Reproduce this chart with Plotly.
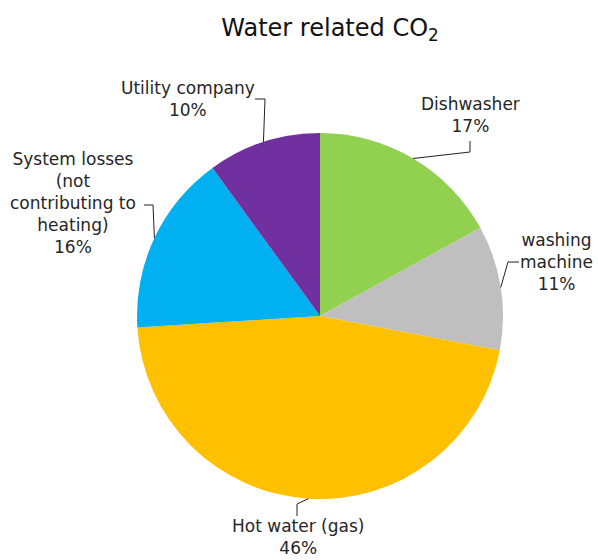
import numpy as np
import plotly.graph_objects as go

# Slice data, clockwise from 12 o'clock
labels = ["Dishwasher", "washing<br>machine", "Hot water (gas)",
          "System losses<br>(not<br>contributing to<br>heating)", "Utility company"]
values = [17, 11, 46, 16, 10]
colors = ["#92D050", "#BFBFBF", "#FFC000", "#00B0F0", "#7030A0"]

W, H = 598, 560
CX, CY, R = 320, 316, 183  # pie centre / radius in pixels

# Label placement (pixels): elbow point, end of leader, text centre
label_layout = [
    dict(elbow=(470, 152), end=(470, 141), text=(470, 115)),
    dict(elbow=(508, 262), end=(519, 262), text=(556, 262)),
    dict(elbow=(297, 504), end=(297, 516), text=(298, 537)),
    dict(elbow=(153, 205), end=(144, 205), text=(73, 203)),
    dict(elbow=(265, 99), end=(255, 99), text=(188, 99)),
]

def px(x, y):
    return x / W, 1 - y / H

fig = go.Figure(go.Pie(
    labels=labels, values=values, sort=False, direction="clockwise", rotation=0,
    marker=dict(colors=colors, line=dict(width=0)),
    textinfo="none", hoverinfo="label+percent", showlegend=False,
    domain=dict(x=[(CX - R) / W, (CX + R) / W], y=[1 - (CY + R) / H, 1 - (CY - R) / H]),
))

total = sum(values)
cum = np.cumsum([0] + values)
for i, (lab, v) in enumerate(zip(labels, values)):
    mid = (cum[i] + v / 2) / total * 2 * np.pi
    ax_, ay_ = CX + R * np.sin(mid), CY - R * np.cos(mid)
    lay = label_layout[i]
    pts = [px(ax_, ay_), px(*lay["elbow"]), px(*lay["end"])]
    path = "M {} {} L {} {} L {} {}".format(*[c for p in pts for c in p])
    fig.add_shape(type="path", path=path, xref="paper", yref="paper",
                  line=dict(color="#222222", width=1))
    tx, ty = px(*lay["text"])
    fig.add_annotation(x=tx, y=ty, xref="paper", yref="paper", showarrow=False,
                       text=f"{lab}<br>{round(v / total * 100)}%",
                       xanchor="center", yanchor="middle", align="center",
                       font=dict(family="DejaVu Sans", size=17, color="#262626"))

fig.update_layout(
    width=W, height=H, margin=dict(l=0, r=0, t=0, b=0),
    paper_bgcolor="white", plot_bgcolor="white",
    title=dict(text="Water related CO<sub>2</sub>", x=330 / W, y=1 - 28 / H,
               xanchor="center", yanchor="middle",
               font=dict(family="DejaVu Sans", size=24, color="#111111")),
)

fig.write_html("out.html")
